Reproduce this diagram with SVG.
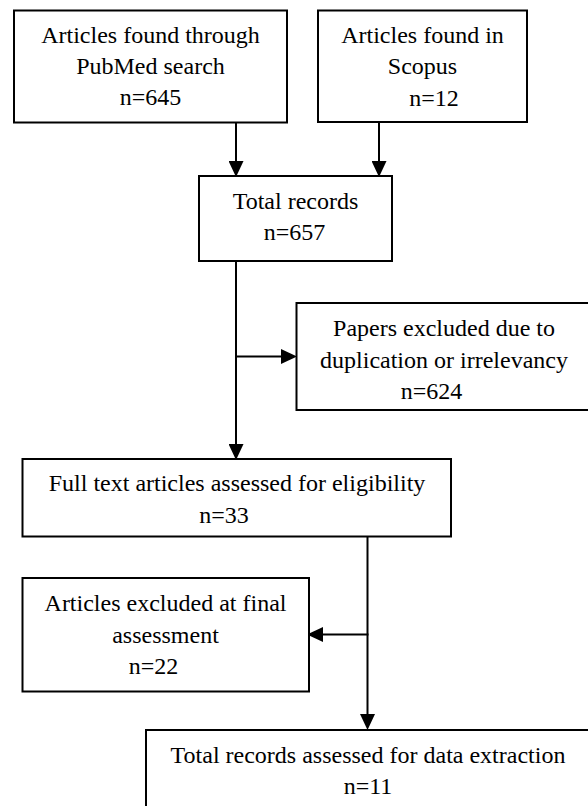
<svg xmlns="http://www.w3.org/2000/svg" width="588" height="806" viewBox="0 0 588 806">
<defs>
<style>
.box{fill:#fff;stroke:#000;stroke-width:2}
.t{font-size:24px;fill:#000;text-anchor:middle}
.c{stroke:#000;stroke-width:2;fill:none;marker-end:url(#ah)}
</style>
<marker id="ah" markerUnits="userSpaceOnUse" markerWidth="16" markerHeight="15" viewBox="0 0 16 15" refX="10" refY="7.5" orient="auto">
<path d="M0,0 L16,7.5 L0,15 z" fill="#000"/>
</marker>
</defs>
<g id="connectors">
<line class="c" x1="236" y1="123" x2="236" y2="171"/>
<line class="c" x1="379" y1="122" x2="379" y2="171"/>
<line class="c" x1="236" y1="261" x2="236" y2="454"/>
<line class="c" x1="235" y1="356.5" x2="291" y2="356.5"/>
<line class="c" x1="367.5" y1="536.5" x2="367.5" y2="724"/>
<line class="c" x1="368.5" y1="634.5" x2="313" y2="634.5"/>
</g>
<g id="pubmed" font-family="Liberation Serif">
<rect class="box" x="14" y="10.5" width="273" height="112"/>
<text class="t" font-family="Liberation Serif" x="150.5" y="43">Articles found through</text>
<text class="t" font-family="Liberation Serif" x="150.5" y="74">PubMed search</text>
<text class="t" font-family="Liberation Serif" x="150.5" y="105">n=645</text>
</g>
<g id="scopus" font-family="Liberation Serif">
<rect class="box" x="318" y="10.5" width="209" height="111.5"/>
<text class="t" font-family="Liberation Serif" x="422.5" y="43">Articles found in</text>
<text class="t" font-family="Liberation Serif" x="422.5" y="74">Scopus</text>
<text class="t" font-family="Liberation Serif" x="434" y="106">n=12</text>
</g>
<g id="total" font-family="Liberation Serif">
<rect class="box" x="199" y="176" width="193" height="85"/>
<text class="t" font-family="Liberation Serif" x="295.5" y="208.5">Total records</text>
<text class="t" font-family="Liberation Serif" x="294.5" y="239.5">n=657</text>
</g>
<g id="papers" font-family="Liberation Serif">
<rect class="box" x="296.5" y="303" width="300" height="107"/>
<text class="t" font-family="Liberation Serif" x="444" y="336">Papers excluded due to</text>
<text class="t" font-family="Liberation Serif" x="444" y="367.5">duplication or irrelevancy</text>
<text class="t" font-family="Liberation Serif" x="431.5" y="399">n=624</text>
</g>
<g id="fulltext" font-family="Liberation Serif">
<rect class="box" x="22.5" y="459" width="428.5" height="77.5"/>
<text class="t" font-family="Liberation Serif" x="237" y="490.5">Full text articles assessed for eligibility</text>
<text class="t" font-family="Liberation Serif" x="224" y="523">n=33</text>
</g>
<g id="excluded" font-family="Liberation Serif">
<rect class="box" x="22.5" y="578" width="286.5" height="113.5"/>
<text class="t" font-family="Liberation Serif" x="165.5" y="610.5">Articles excluded at final</text>
<text class="t" font-family="Liberation Serif" x="165.5" y="642.5">assessment</text>
<text class="t" font-family="Liberation Serif" x="153.5" y="674">n=22</text>
</g>
<g id="final" font-family="Liberation Serif">
<rect class="box" x="146" y="730" width="450" height="90"/>
<text class="t" font-family="Liberation Serif" x="368" y="762.5">Total records assessed for data extraction</text>
<text class="t" font-family="Liberation Serif" x="368" y="794">n=11</text>
</g>
</svg>
